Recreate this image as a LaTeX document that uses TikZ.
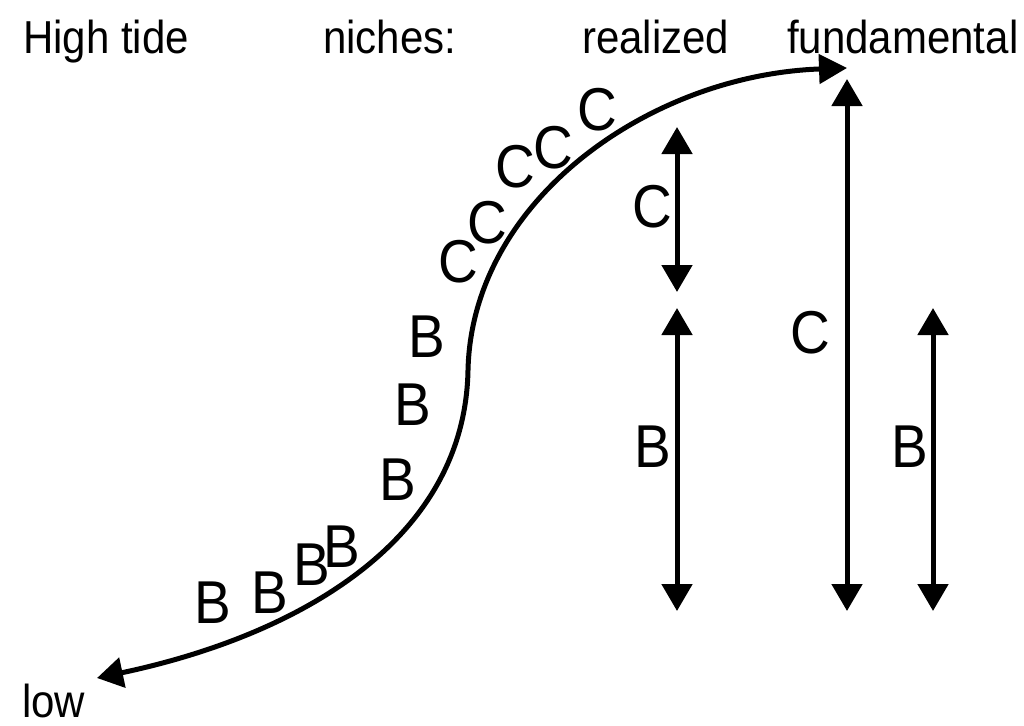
\documentclass[tikz,border=0pt]{standalone}
\usepackage{fontspec}
\setmainfont{Liberation Sans}
\usepackage{graphicx}
\usetikzlibrary{arrows.meta}
\newcommand{\tall}[1]{\scalebox{1}[1.1]{#1}}
\tikzset{
  toplabel/.style={anchor=base west, inner sep=0pt, font=\fontsize{42pt}{46pt}\selectfont},
  species/.style={anchor=center, inner sep=0pt, font=\fontsize{55pt}{60pt}\selectfont},
  zonecurve/.style={line width=5pt, {Triangle[length=26pt,width=30pt]}-{Triangle[length=28pt,width=29pt]}},
  nicharrow/.style={line width=5pt, {Triangle[length=27pt,width=30pt]}-{Triangle[length=27pt,width=30pt]}},
}

\begin{document}
\begin{tikzpicture}[x=1pt, y=-1pt]
\useasboundingbox (0,0) rectangle (1024,725);

% labels along the top
\node[toplabel] (hightide) at (23,53) {\tall{High tide}};
\node[toplabel] (niches) at (323,53) {\tall{niches:}};
\node[toplabel] (realized) at (582,53) {\tall{realized}};
\node[toplabel] (fundamental) at (787,53) {\tall{fundamental}};
\node[toplabel] (low) at (22,717) {\tall{low}};

% shore gradient
\coordinate (lowend) at (97,678);
\coordinate (mid) at (468,370);
\coordinate (highend) at (847,68);
\draw[zonecurve] (lowend) .. controls (300,635) and (465,540) .. (mid)
  .. controls (472,200) and (650,75) .. (highend);

% species along the shore
\node[species] (b1) at (213,603) {\tall{B}};
\node[species] (b2) at (270,593) {\tall{B}};
\node[species] (b3) at (312,565) {\tall{B}};
\node[species] (b4) at (342,547) {\tall{B}};
\node[species] (b5) at (398,480) {\tall{B}};
\node[species] (b6) at (413,405) {\tall{B}};
\node[species] (b7) at (427,337) {\tall{B}};
\node[species] (c1) at (458,262) {\tall{C}};
\node[species] (c2) at (487,223) {\tall{C}};
\node[species] (c3) at (515,167) {\tall{C}};
\node[species] (c4) at (553,148) {\tall{C}};
\node[species] (c5) at (597,110) {\tall{C}};

% realized niches
\coordinate (rctop) at (677,127);
\coordinate (rcbot) at (677,292);
\coordinate (rbtop) at (677,308);
\coordinate (rbbot) at (677,611);
\draw[nicharrow] (rctop) -- (rcbot);
\draw[nicharrow] (rbtop) -- (rbbot);
\node[species] (rclabel) at (652,207) {\tall{C}};
\node[species] (rblabel) at (653,447) {\tall{B}};

% fundamental niches
\coordinate (fctop) at (847,79);
\coordinate (fcbot) at (847,611);
\coordinate (fbtop) at (933,308);
\coordinate (fbbot) at (933,611);
\draw[nicharrow] (fctop) -- (fcbot);
\draw[nicharrow] (fbtop) -- (fbbot);
\node[species] (fclabel) at (810,333) {\tall{C}};
\node[species] (fblabel) at (910,447) {\tall{B}};
\end{tikzpicture}
\end{document}
